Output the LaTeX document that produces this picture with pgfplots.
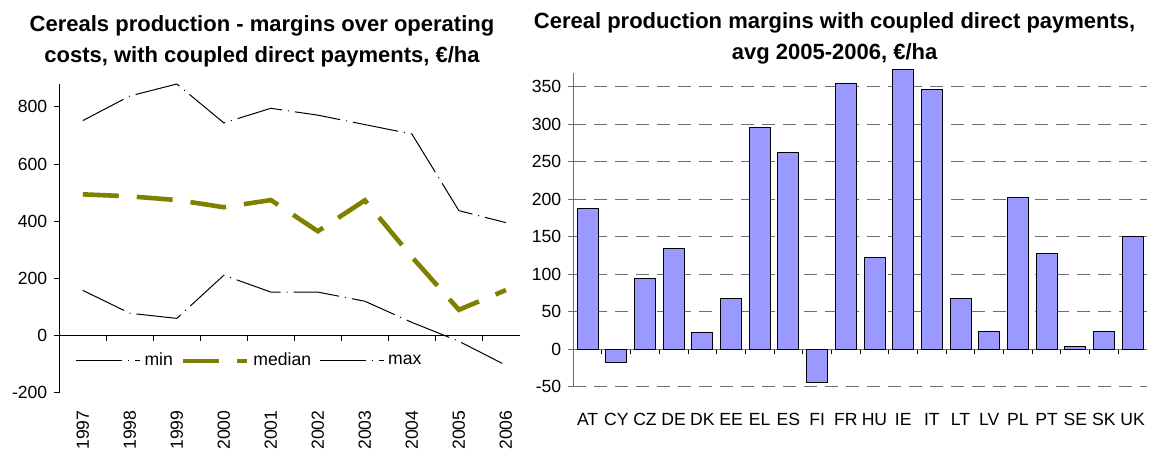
\documentclass[border=0pt]{standalone}
\usepackage{pgfplots}
\pgfplotsset{compat=1.18}
\usepackage{fontspec}
\setmainfont{Liberation Sans}
\definecolor{olivebar}{RGB}{128,128,0}
\definecolor{lilac}{RGB}{153,153,255}
\definecolor{gridgray}{RGB}{110,110,110}

\begin{document}
\begin{tikzpicture}
% left: margins over operating costs (1 px = 0.5pt)
\begin{axis}[scale only axis,width=230.35pt,height=154.35pt,
  at={(29.65pt,28.65pt)},anchor=south west,
  xmin=-0.5,xmax=9.3,ymin=-200,ymax=880,
  axis x line=middle,axis y line=left,
  axis line style={black,line width=0.5pt,-},
  xtick={0,...,9},
  xticklabels={1997,1998,1999,2000,2001,2002,2003,2004,2005,2006},
  minor xtick={0.5,1.5,...,8.5},
  major x tick style={draw=none},
  minor x tick style={black,line width=0.5pt},
  ytick={-200,0,200,400,600,800},
  y tick style={black,line width=0.5pt},
  tick align=outside,major tick length=2.5pt,minor tick length=2.5pt,
  xticklabel style={yshift=-31.5pt,rotate=90,anchor=east},
  tick label style={font=\fontsize{8.8}{10}\selectfont},
  /pgf/number format/assume math mode=true,
  title={Cereals production - margins over operating\\costs, with coupled direct payments, €/ha},
  title style={at={(0.44,1)},anchor=south,align=center,yshift=-1pt,
    font=\fontsize{11}{15.5}\selectfont\bfseries},
  legend columns=3,
  legend style={draw=none,fill=none,at={(0.415,0.103)},anchor=center,
    font=\fontsize{8.8}{10}\selectfont,/tikz/every even column/.append style={column sep=2pt}},
  legend image code/.code={\draw[#1] (0pt,0pt) -- (32pt,0pt);},
  clip=false]
\addplot[black,line width=0.5pt,dash pattern=on 23pt off 3pt on 0.5pt off 3pt] coordinates {
  (0,158) (1,78) (2,60) (3,211) (4,152) (5,152) (6,120) (7,46) (8,-20) (9,-104)};
\addlegendentry{min}
\addplot[olivebar,line width=2.3pt,dash pattern=on 18pt off 9pt] coordinates {
  (0,494) (1,487) (2,474) (3,449) (4,474) (5,365) (6,473) (7,275) (8,90) (9,159)};
\addlegendentry{median}
\addplot[black,line width=0.5pt,dash pattern=on 23pt off 3pt on 0.5pt off 3pt] coordinates {
  (0,752) (1,838) (2,880) (3,744) (4,795) (5,771) (6,738) (7,705) (8,437) (9,395)};
\addlegendentry{max}
\end{axis}

% right: average 2005-2006 by member state
\begin{axis}[scale only axis,width=286.85pt,height=156.7pt,
  at={(286.65pt,31.65pt)},anchor=south west,
  ybar,bar width=10.5pt,
  xmin=-0.5,xmax=19.5,ymin=-50,ymax=368,
  axis x line=middle,axis y line=left,
  axis line style={gridgray,line width=0.6pt,-},
  xtick={0,...,19},
  xticklabels={AT,CY,CZ,DE,DK,EE,EL,ES,FI,FR,HU,IE,IT,LT,LV,PL,PT,SE,SK,UK},
  minor xtick={0.5,1.5,...,18.5},
  major x tick style={draw=none},
  minor x tick style={black,line width=0.5pt},
  ytick={-50,0,50,...,350},
  y tick style={gridgray,line width=0.6pt},
  tick align=outside,major tick length=2.5pt,minor tick length=2.5pt,
  ymajorgrids,
  major grid style={gridgray,line width=0.55pt,dash pattern=on 6.5pt off 4pt},
  xticklabel style={anchor=north,yshift=-26pt},
  tick label style={font=\fontsize{8.8}{10}\selectfont},
  /pgf/number format/assume math mode=true,
  title={Cereal production margins with coupled direct payments,\\avg 2005-2006, €/ha},
  title style={at={(0.4555,1)},anchor=south,align=center,yshift=-5pt,
    font=\fontsize{11}{15.5}\selectfont\bfseries},
  clip=false]
\addplot[fill=lilac,draw=black,line width=0.5pt] coordinates {
  (0,188) (1,-18) (2,94) (3,134) (4,22) (5,67) (6,296) (7,263) (8,-44) (9,354)
  (10,122) (11,373) (12,347) (13,67) (14,24) (15,202) (16,128) (17,3) (18,24) (19,150)};
\end{axis}
\pgfresetboundingbox
\useasboundingbox (0,0) rectangle (575.5pt,225pt);
\end{tikzpicture}
\end{document}
